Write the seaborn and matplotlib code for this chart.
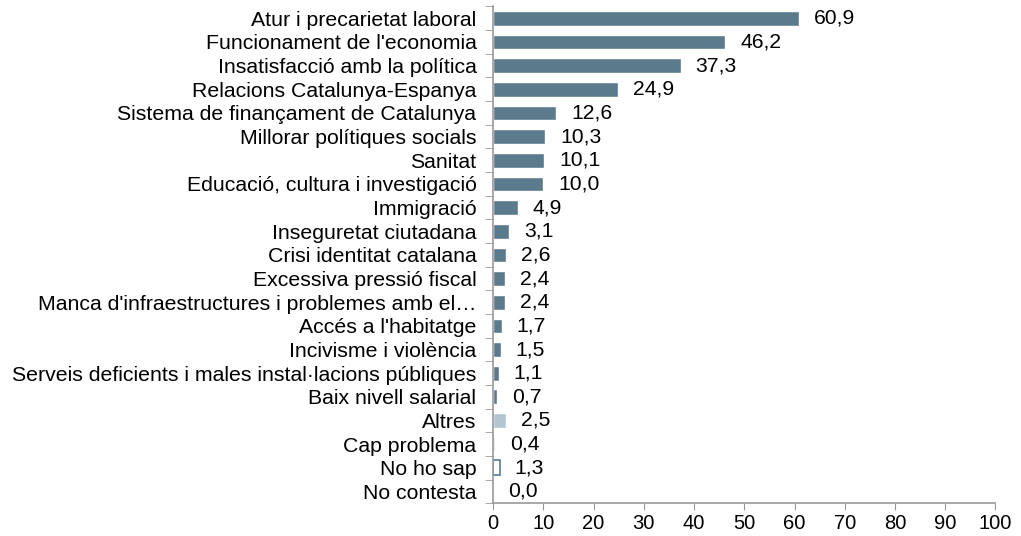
import numpy as np
import pandas as pd
import matplotlib
matplotlib.use("Agg")
import matplotlib.pyplot as plt
import seaborn as sns

categories = ["Atur i precarietat laboral", "Funcionament de l'economia",
              "Insatisfacció amb la política", "Relacions Catalunya-Espanya",
              "Sistema de finançament de Catalunya", "Millorar polítiques socials",
              "Sanitat", "Educació, cultura i investigació", "Immigració",
              "Inseguretat ciutadana", "Crisi identitat catalana",
              "Excessiva pressió fiscal",
              "Manca d'infraestructures i problemes amb el\u2026",
              "Accés a l'habitatge", "Incivisme i violència",
              "Serveis deficients i males instal·lacions públiques",
              "Baix nivell salarial", "Altres", "Cap problema", "No ho sap",
              "No contesta"]
values = [60.9, 46.2, 37.3, 24.9, 12.6, 10.3, 10.1, 10.0, 4.9, 3.1, 2.6, 2.4,
          2.4, 1.7, 1.5, 1.1, 0.7, 2.5, 0.4, 1.3, 0.0]

dark = "#5b7b8c"
colors = [dark] * 17 + ["#b3c5d0", "#c9d6de", "#ffffff", "#ffffff"]

sns.set_style("white")
plt.rcParams['font.family'] = ['Liberation Sans', 'DejaVu Sans']
plt.rcParams['text.color'] = 'black'

df = pd.DataFrame({"cat": categories, "val": values})
fig = plt.figure(figsize=(10.21, 5.36), dpi=100)
ax = fig.add_axes([0.483, 0.061, 0.492, 0.927])
sns.barplot(data=df, x="val", y="cat", hue="cat", palette=colors, legend=False,
            width=0.62, ax=ax, saturation=1)

# "No ho sap" drawn as outline only
for i, p in enumerate(ax.patches):
    if categories[i] == "No ho sap":
        p.set_edgecolor(dark)
        p.set_linewidth(1.2)

for i, v in enumerate(values):
    ax.text(v + 3.0, i, f"{v:.1f}".replace(".", ","), va="center", ha="left",
            fontsize=15.2, color="black")

ax.set_xlim(0, 100)
ax.set_ylim(len(categories) - 0.5, -0.5)
ax.set_xticks(range(0, 101, 10))
ax.set_xlabel("")
ax.set_ylabel("")
ax.tick_params(axis="x", labelsize=14.5, length=5, color="#999999", direction="out",
               bottom=True, pad=3, labelcolor="black")
ax.tick_params(axis="y", which="major", labelsize=15.3, length=0, pad=12,
               labelcolor="black")
ax.set_yticks(np.arange(-0.5, len(categories)), minor=True)
ax.tick_params(axis="y", which="minor", length=6, color="#999999", left=True,
               direction="out")
for s in ["top", "right"]:
    ax.spines[s].set_visible(False)
for s in ["left", "bottom"]:
    ax.spines[s].set_color("#999999")
    ax.spines[s].set_linewidth(1.2)

fig.savefig("out.png", dpi=100)
